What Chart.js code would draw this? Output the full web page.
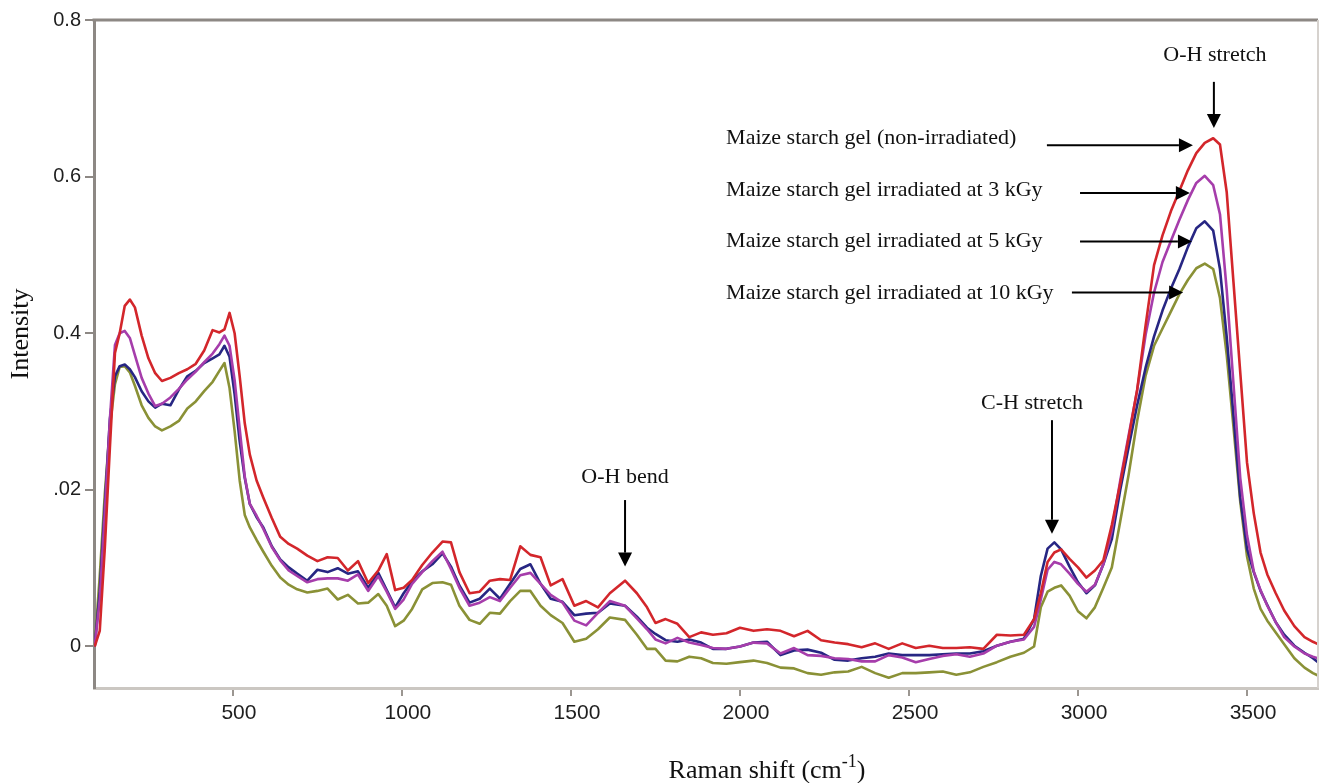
<!DOCTYPE html>
<html lang="en">
<head>
<meta charset="UTF-8">
<title>Raman spectra - maize starch gels</title>
<script src="https://cdn.jsdelivr.net/npm/chart.js"></script>
<style>
  html, body { margin: 0; padding: 0; background: #fff; overflow: hidden; }
  #wrap { position: relative; width: 1321px; height: 783px; }
</style>
</head>
<body>
<div id="wrap"><canvas id="raman"></canvas></div>
<script>
// Raman shift (cm-1), shared by all four spectra
const shift = [
  91, 106, 121, 136, 151, 165, 180, 195, 210, 230,
  250, 270, 290, 315, 340, 365, 390, 415, 440, 460,
  475, 490, 505, 520, 535, 550, 570, 590, 615, 640,
  665, 690, 720, 750, 780, 810, 840, 870, 900, 930,
  955, 980, 1005, 1030, 1060, 1090, 1120, 1145, 1170, 1200,
  1230, 1260, 1290, 1320, 1350, 1380, 1410, 1440, 1475, 1510,
  1545, 1580, 1615, 1660, 1695, 1725, 1750, 1780, 1815, 1850,
  1885, 1920, 1960, 2000, 2040, 2080, 2120, 2160, 2200, 2240,
  2280, 2320, 2360, 2400, 2440, 2480, 2520, 2560, 2600, 2640,
  2680, 2720, 2760, 2800, 2840, 2870, 2890, 2910, 2930, 2950,
  2975, 3000, 3025, 3050, 3075, 3100, 3125, 3150, 3175, 3200,
  3225, 3250, 3275, 3300, 3325, 3350, 3375, 3400, 3420, 3440,
  3460, 3480, 3500, 3520, 3540, 3560, 3585, 3610, 3640, 3670,
  3695, 3710
];

const nonIrradiated = [
  0.000, 0.020, 0.126, 0.254, 0.375, 0.400, 0.435, 0.443, 0.433, 0.397,
  0.368, 0.349, 0.339, 0.343, 0.349, 0.354, 0.361, 0.378, 0.404, 0.401,
  0.405, 0.426, 0.400, 0.345, 0.285, 0.245, 0.212, 0.190, 0.164, 0.140,
  0.131, 0.125, 0.116, 0.109, 0.114, 0.113, 0.097, 0.109, 0.081, 0.097,
  0.118, 0.072, 0.075, 0.085, 0.104, 0.120, 0.134, 0.133, 0.095, 0.068,
  0.070, 0.084, 0.086, 0.085, 0.128, 0.117, 0.114, 0.078, 0.086, 0.052,
  0.058, 0.050, 0.068, 0.084, 0.068, 0.050, 0.030, 0.035, 0.029, 0.012,
  0.018, 0.015, 0.017, 0.024, 0.020, 0.022, 0.020, 0.013, 0.020, 0.008,
  0.005, 0.003, -0.001, 0.004, -0.003, 0.004, -0.002, 0.001, -0.002, -0.002,
  -0.001, -0.003, 0.015, 0.014, 0.015, 0.035, 0.068, 0.108, 0.120, 0.124,
  0.112, 0.101, 0.088, 0.097, 0.110, 0.155, 0.208, 0.267, 0.328, 0.410,
  0.487, 0.525, 0.556, 0.582, 0.608, 0.630, 0.643, 0.649, 0.641, 0.580,
  0.465, 0.350, 0.235, 0.170, 0.120, 0.092, 0.068, 0.046, 0.026, 0.012,
  0.006, 0.003
];

const kGy3 = [
  0.000, 0.060, 0.170, 0.290, 0.385, 0.400, 0.403, 0.394, 0.372, 0.343,
  0.323, 0.307, 0.310, 0.318, 0.329, 0.341, 0.351, 0.363, 0.374, 0.386,
  0.397, 0.384, 0.340, 0.278, 0.217, 0.182, 0.167, 0.150, 0.127, 0.110,
  0.097, 0.090, 0.082, 0.086, 0.087, 0.087, 0.084, 0.092, 0.071, 0.090,
  0.070, 0.048, 0.060, 0.080, 0.095, 0.109, 0.121, 0.099, 0.075, 0.052,
  0.056, 0.063, 0.058, 0.075, 0.091, 0.094, 0.080, 0.066, 0.056, 0.033,
  0.027, 0.043, 0.058, 0.052, 0.036, 0.022, 0.009, 0.004, 0.011, 0.005,
  0.002, -0.002, -0.003, 0.000, 0.005, 0.004, -0.009, -0.002, -0.011, -0.012,
  -0.015, -0.016, -0.019, -0.019, -0.011, -0.014, -0.020, -0.016, -0.012, -0.010,
  -0.013, -0.009, 0.001, 0.006, 0.009, 0.025, 0.060, 0.098, 0.108, 0.105,
  0.093, 0.080, 0.070, 0.079, 0.105, 0.148, 0.212, 0.270, 0.327, 0.398,
  0.452, 0.491, 0.518, 0.545, 0.570, 0.592, 0.601, 0.589, 0.552, 0.455,
  0.335, 0.215, 0.142, 0.096, 0.072, 0.052, 0.031, 0.012, 0.000, -0.009,
  -0.013, -0.015
];

const kGy5 = [
  0.000, 0.070, 0.180, 0.290, 0.345, 0.358, 0.360, 0.354, 0.344, 0.326,
  0.313, 0.305, 0.310, 0.308, 0.328, 0.345, 0.352, 0.362, 0.368, 0.373,
  0.384, 0.370, 0.322, 0.262, 0.215, 0.182, 0.165, 0.152, 0.128, 0.111,
  0.101, 0.093, 0.084, 0.098, 0.095, 0.100, 0.093, 0.096, 0.075, 0.094,
  0.072, 0.050, 0.068, 0.083, 0.096, 0.105, 0.119, 0.102, 0.078, 0.056,
  0.061, 0.074, 0.061, 0.080, 0.099, 0.105, 0.080, 0.061, 0.057, 0.040,
  0.042, 0.043, 0.055, 0.052, 0.038, 0.024, 0.016, 0.008, 0.006, 0.009,
  0.005, -0.003, -0.003, 0.000, 0.005, 0.006, -0.011, -0.005, -0.004, -0.008,
  -0.017, -0.018, -0.015, -0.013, -0.009, -0.011, -0.011, -0.011, -0.010, -0.009,
  -0.009, -0.006, 0.001, 0.006, 0.010, 0.035, 0.090, 0.125, 0.133, 0.124,
  0.102, 0.082, 0.068, 0.078, 0.105, 0.137, 0.200, 0.255, 0.308, 0.356,
  0.396, 0.429, 0.457, 0.482, 0.510, 0.534, 0.543, 0.531, 0.482, 0.395,
  0.295, 0.190, 0.125, 0.095, 0.071, 0.053, 0.031, 0.015, 0.001, -0.008,
  -0.015, -0.020
];

const kGy10 = [
  0.000, 0.090, 0.195, 0.280, 0.335, 0.357, 0.358, 0.350, 0.333, 0.308,
  0.292, 0.281, 0.276, 0.281, 0.288, 0.304, 0.313, 0.326, 0.338, 0.352,
  0.362, 0.330, 0.275, 0.212, 0.168, 0.152, 0.136, 0.121, 0.103, 0.088,
  0.079, 0.073, 0.069, 0.071, 0.074, 0.060, 0.066, 0.055, 0.056, 0.067,
  0.052, 0.026, 0.033, 0.048, 0.073, 0.081, 0.082, 0.079, 0.052, 0.034,
  0.029, 0.043, 0.042, 0.058, 0.071, 0.071, 0.052, 0.040, 0.030, 0.006,
  0.010, 0.022, 0.037, 0.034, 0.015, -0.003, -0.003, -0.018, -0.019, -0.013,
  -0.015, -0.021, -0.022, -0.020, -0.018, -0.021, -0.027, -0.028, -0.034, -0.036,
  -0.033, -0.032, -0.026, -0.034, -0.040, -0.034, -0.034, -0.033, -0.032, -0.036,
  -0.033, -0.026, -0.020, -0.013, -0.008, 0.000, 0.050, 0.070, 0.075, 0.078,
  0.065, 0.045, 0.036, 0.050, 0.075, 0.101, 0.160, 0.220, 0.288, 0.346,
  0.384, 0.406, 0.428, 0.450, 0.468, 0.483, 0.489, 0.482, 0.445, 0.372,
  0.280, 0.185, 0.115, 0.074, 0.048, 0.033, 0.018, 0.003, -0.015, -0.027,
  -0.034, -0.037
];

const xTicks = [500, 1000, 1500, 2000, 2500, 3000, 3500];
const yTicks = [0, 0.2, 0.4, 0.6, 0.8];
const yTickLabels = ['0', '.02', '0.4', '0.6', '0.8'];   // as printed on the figure

const seriesNames = [
  'Maize starch gel (non-irradiated)',
  'Maize starch gel irradiated at 3 kGy',
  'Maize starch gel irradiated at 5 kGy',
  'Maize starch gel irradiated at 10 kGy'
];
const seriesColors = ['#d3262b', '#a63dab', '#272683', '#8a9136'];
const seriesValues = [nonIrradiated, kGy3, kGy5, kGy10];

// text notes and arrows, placed in data units
const notes = [
  { text: 'O-H stretch', x: 3405, y: 0.755, align: 'center' },
  { text: seriesNames[0], x: 1959, y: 0.649, align: 'left' },
  { text: seriesNames[1], x: 1959, y: 0.583, align: 'left' },
  { text: seriesNames[2], x: 1959, y: 0.517, align: 'left' },
  { text: seriesNames[3], x: 1959, y: 0.451, align: 'left' },
  { text: 'C-H stretch', x: 2864, y: 0.311, align: 'center' },
  { text: 'O-H bend', x: 1660, y: 0.216, align: 'center' }
];
const arrows = [
  { from: [3402, 0.721], to: [3402, 0.662] },
  { from: [2908, 0.640], to: [3340, 0.640] },
  { from: [3006, 0.579], to: [3331, 0.579] },
  { from: [3006, 0.517], to: [3337, 0.517] },
  { from: [2982, 0.452], to: [3311, 0.452] },
  { from: [2923, 0.289], to: [2923, 0.144] },
  { from: [1660, 0.187], to: [1660, 0.102] }
];

function drawArrow(ctx, x1, y1, x2, y2) {
  const ang = Math.atan2(y2 - y1, x2 - x1);
  const len = 14, half = 7;
  const bx = x2 - len * Math.cos(ang);
  const by = y2 - len * Math.sin(ang);
  ctx.beginPath();
  ctx.moveTo(x1, y1);
  ctx.lineTo(bx, by);
  ctx.stroke();
  ctx.beginPath();
  ctx.moveTo(x2, y2);
  ctx.lineTo(bx + half * Math.sin(ang), by - half * Math.cos(ang));
  ctx.lineTo(bx - half * Math.sin(ang), by + half * Math.cos(ang));
  ctx.closePath();
  ctx.fill();
}

const notesPlugin = {
  id: 'notes',
  afterDraw(chart) {
    const { ctx, chartArea: a } = chart;
    const x = chart.scales.x, y = chart.scales.y;
    ctx.save();

    // top and right frame lines
    ctx.strokeStyle = '#8d8884';
    ctx.lineWidth = 3;
    ctx.beginPath();
    ctx.moveTo(a.left - 1.5, a.top);
    ctx.lineTo(a.right, a.top);
    ctx.stroke();
    ctx.strokeStyle = '#d6d2ce';
    ctx.lineWidth = 2;
    ctx.beginPath();
    ctx.moveTo(a.right, a.top);
    ctx.lineTo(a.right, a.bottom);
    ctx.stroke();

    // annotations
    ctx.fillStyle = '#111';
    ctx.font = '22px "Liberation Serif", "Times New Roman", serif';
    ctx.textBaseline = 'middle';
    notes.forEach(n => {
      ctx.textAlign = n.align;
      ctx.fillText(n.text, x.getPixelForValue(n.x), y.getPixelForValue(n.y));
    });
    ctx.strokeStyle = '#000';
    ctx.fillStyle = '#000';
    ctx.lineWidth = 2;
    arrows.forEach(ar => {
      drawArrow(ctx,
        x.getPixelForValue(ar.from[0]), y.getPixelForValue(ar.from[1]),
        x.getPixelForValue(ar.to[0]), y.getPixelForValue(ar.to[1]));
    });

    // axis titles
    ctx.fillStyle = '#111';
    ctx.textBaseline = 'alphabetic';
    ctx.textAlign = 'left';
    const big = '26px "Liberation Serif", "Times New Roman", serif';
    const small = '18px "Liberation Serif", "Times New Roman", serif';
    const head = 'Raman shift (cm', sup = '-1', tail = ')';
    ctx.font = big;
    const wHead = ctx.measureText(head).width, wTail = ctx.measureText(tail).width;
    ctx.font = small;
    const wSup = ctx.measureText(sup).width;
    let tx = x.getPixelForValue(2080) - (wHead + wSup + wTail) / 2;
    const base = a.bottom + 90;
    ctx.font = big;
    ctx.fillText(head, tx, base);
    ctx.font = small;
    ctx.fillText(sup, tx + wHead, base - 11);
    ctx.font = big;
    ctx.fillText(tail, tx + wHead + wSup, base);

    ctx.translate(28, (a.top + a.bottom) / 2 - 20);
    ctx.rotate(-Math.PI / 2);
    ctx.textAlign = 'center';
    ctx.fillText('Intensity', 0, 0);
    ctx.restore();
  }
};

const datasets = seriesValues.map((vals, i) => ({
  label: seriesNames[i],
  data: shift.map((s, j) => ({ x: s, y: vals[j] })),
  borderColor: seriesColors[i],
  borderWidth: 2.6,
  pointRadius: 0,
  tension: 0,
  borderJoinStyle: 'round',
  fill: false
}));

new Chart(document.getElementById('raman'), {
  type: 'line',
  data: { datasets },
  options: {
    responsive: true,
    maintainAspectRatio: false,
    animation: false,
    events: [],
    layout: { padding: { top: 20, right: 3, left: 0, bottom: 0 } },
    plugins: { legend: { display: false }, tooltip: { enabled: false } },
    scales: {
      x: {
        type: 'linear',
        min: 89,
        max: 3710,
        afterBuildTicks: scale => { scale.ticks = xTicks.map(v => ({ value: v })); },
        afterFit: scale => { scale.height = 95; },
        border: { color: '#cbc7c2', width: 3 },
        grid: { drawOnChartArea: false, drawTicks: true, tickLength: 8, color: '#9b9691', lineWidth: 2 },
        ticks: {
          autoSkip: false,
          maxRotation: 0,
          labelOffset: 6,
          padding: 5,
          color: '#1e1e1e',
          font: { family: '"Liberation Sans", Arial, sans-serif', size: 21 },
          callback: value => String(value)
        }
      },
      y: {
        min: -0.053,
        max: 0.8,
        afterBuildTicks: scale => { scale.ticks = yTicks.map(v => ({ value: v })); },
        afterFit: scale => { scale.width = 94; },
        border: { color: '#8d8884', width: 3 },
        grid: { drawOnChartArea: false, drawTicks: true, tickLength: 9, color: '#8d8884', lineWidth: 2 },
        ticks: {
          padding: 4,
          color: '#1e1e1e',
          font: { family: '"Liberation Sans", Arial, sans-serif', size: 20 },
          callback: (value, index) => yTickLabels[index]
        }
      }
    }
  },
  plugins: [notesPlugin]
});
</script>
</body>
</html>
